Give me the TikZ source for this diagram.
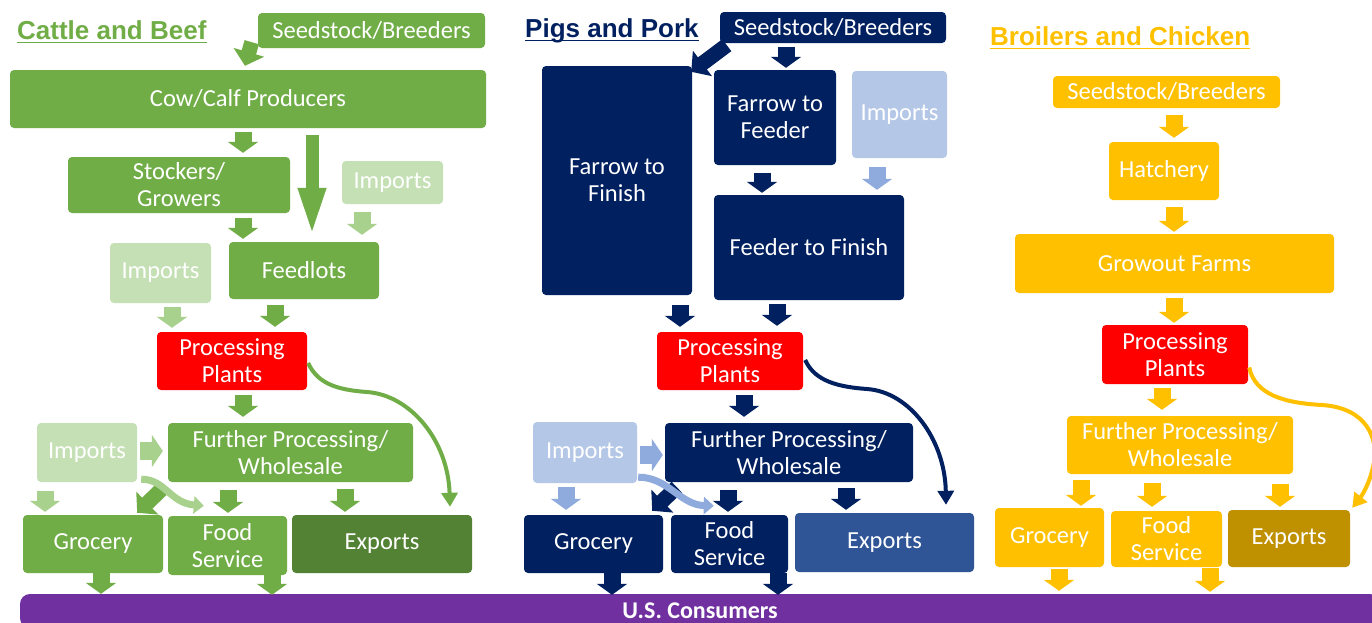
\documentclass[tikz,border=0pt]{standalone}
\usepackage{fontspec}
\setmainfont{Carlito}
\newfontfamily\titlefont{Liberation Sans}
\usetikzlibrary{arrows.meta,calc}
\definecolor{cgreen}{HTML}{70AD47}
\definecolor{cgreendk}{HTML}{548235}
\definecolor{cgreenlt}{HTML}{C5E0B4}
\definecolor{cgreenla}{HTML}{A9D18E}
\definecolor{cnavy}{HTML}{002060}
\definecolor{cnavyexp}{HTML}{2F5597}
\definecolor{cbluelt}{HTML}{B4C7E7}
\definecolor{cbluela}{HTML}{8FAADC}
\definecolor{cyel}{HTML}{FFC000}
\definecolor{cyelexp}{HTML}{BF9000}
\definecolor{cred}{HTML}{FF0000}
\definecolor{cpurp}{HTML}{7030A0}
\tikzset{
  box/.style={fill=#1, rounded corners=4pt, inner sep=0pt, align=center, text=white,
    font=\fontsize{24.5}{27}\selectfont},
  ttl/.style={text=#1, inner sep=0pt, anchor=base west,
    font=\titlefont\bfseries\fontsize{26}{30}\selectfont},
  uline/.style={draw=#1, line width=1.8pt},
  barrow/.style={color=#1, line width=17pt, -{Triangle[width=30pt,length=11pt]}},
  rarrow/.style={color=#1, line width=18pt, -{Triangle[width=32pt,length=11pt]}},
  darrow/.style={color=#1, line width=15pt, -{Triangle[width=31pt,length=14pt]}},
  bigarrow/.style={color=#1, line width=13pt, -{Triangle[width=24pt,length=52pt]}},
  curvearrow/.style={draw=#1, line width=4pt, -{Triangle[width=16pt,length=14pt]}},
  lcurve/.style={draw=#1, line width=7pt, -{Triangle[width=17pt,length=10pt]}},
}
\begin{document}
\begin{tikzpicture}[x=1pt,y=-1pt]
\useasboundingbox (0,0) rectangle (1372,622);
\clip (0,0) rectangle (1372,622);
\fill[white] (0,0) rectangle (1372,622);

% ---------------- Consumers bar
\node[fill=cpurp, rounded corners=10pt, minimum width=1360pt, minimum height=34pt,
  inner sep=0pt, text=white, font=\bfseries\fontsize{24}{27}\selectfont]
  (cons) at (700,611) {U.S. Consumers};

% ---------------- Cattle and Beef
\node[ttl=cgreen] (t_c) at (17,39) {Cattle and Beef};
\draw[uline=cgreen] ($(t_c.base west)+(0,3.5)$) -- ($(t_c.base east)+(0,3.5)$);

\node[box=cgreen, minimum width=227pt, minimum height=35pt] (c_seed) at (371.5,30.5) {Seedstock/Breeders};
\node[box=cgreen, minimum width=476pt, minimum height=58pt] (c_cow) at (248,99) {Cow/Calf Producers};
\node[box=cgreen, minimum width=222pt, minimum height=56pt] (c_stock) at (179,185) {Stockers/\\Growers};
\node[box=cgreenlt, minimum width=101pt, minimum height=43pt] (c_imp1) at (392.5,182.5) {Imports};
\node[box=cgreenlt, minimum width=101pt, minimum height=60pt] (c_imp2) at (160.5,273) {Imports};
\node[box=cgreen, minimum width=150pt, minimum height=57pt] (c_feed) at (304,270.5) {Feedlots};
\node[box=cred, minimum width=150pt, minimum height=58pt] (c_pp) at (232,361) {Processing\\Plants};
\node[box=cgreenlt, minimum width=100pt, minimum height=59pt] (c_imp3) at (87,452.5) {Imports};
\node[box=cgreen, minimum width=245pt, minimum height=59pt] (c_fp) at (290.5,452.5) {Further Processing/\\Wholesale};
\node[box=cgreen, minimum width=140pt, minimum height=58pt] (c_groc) at (93,544) {Grocery};
\node[box=cgreen, minimum width=119pt, minimum height=59pt] (c_fs) at (227.5,545.5) {Food\\Service};
\node[box=cgreendk, minimum width=180pt, minimum height=58pt] (c_exp) at (382,544) {Exports};

\draw[darrow=cgreen] ($(c_seed.south west)+(-6,-6)$) -- ($(c_cow.north)+(-3,-4)$);
\draw[barrow=cgreen] ($(c_cow.south)+(-5,4)$) -- ($(c_cow.south |- c_stock.north)+(-5,-4)$);
\draw[bigarrow=cgreen] ($(c_cow.south)+(64,7)$) -- ($(c_cow.south |- c_feed.north)+(64,-2)$);
\draw[barrow=cgreenla] ($(c_imp1.south)+(-30.5,8)$) -- ($(c_imp1.south |- c_feed.north)+(-30.5,-7)$);
\draw[barrow=cgreen] ($(c_stock.south)+(64,5)$) -- ($(c_stock.south |- c_feed.north)+(64,-3)$);
\draw[barrow=cgreenla] ($(c_imp2.south)+(11.5,4)$) -- ($(c_imp2.south |- c_pp.north)+(11.5,-4)$);
\draw[barrow=cgreen] ($(c_feed.south)+(-29,6)$) -- ($(c_feed.south |- c_pp.north)+(-29,-5)$);
\draw[barrow=cgreen] ($(c_pp.south)+(11,5)$) -- ($(c_pp.south |- c_fp.north)+(11,-6)$);
\draw[rarrow=cgreenla] ($(c_imp3.east)+(3,-1.5)$) -- ($(c_fp.west)+(-5,-1.5)$);
\draw[barrow=cgreenla] ($(c_imp3.south)+(-42,9)$) -- ($(c_imp3.south |- c_groc.north)+(-42,-3)$);
\draw[darrow=cgreen] ($(c_fp.south west)+(-4,5)$) -- ($(c_groc.north east)+(-26,-2)$);
\draw[lcurve=cgreenla] ($(c_imp3.south east)+(4,-3)$) .. controls (165,479) and (170,503) .. ($(c_fs.north west)+(36,-10)$);
\draw[barrow=cgreen] ($(c_fp.south)+(-62.5,8)$) -- ($(c_fp.south |- c_fs.north)+(-62.5,-3)$);
\draw[barrow=cgreen] ($(c_fp.south)+(54.5,7)$) -- ($(c_fp.south |- c_exp.north)+(54.5,-3)$);
\draw[curvearrow=cgreen] ($(c_pp.east)+(1,2)$) .. controls (318,385) and (340,390) .. (367,392)
   .. controls (410,395) and (448,440) .. ($(c_exp.north)+(68,-8)$);
\draw[barrow=cgreen] ($(c_groc.south)+(8,0)$) -- ($(c_groc.south |- cons.north)+(8,0)$);
\draw[barrow=cgreen] ($(c_fs.south)+(44.5,-1)$) -- ($(c_fs.south |- cons.north)+(44.5,1)$);

% ---------------- Pigs and Pork
\node[ttl=cnavy] (t_p) at (525,37) {Pigs and Pork};
\draw[uline=cnavy] ($(t_p.base west)+(0,3.5)$) -- ($(t_p.base east)+(0,3.5)$);

\node[box=cnavy, minimum width=226pt, minimum height=31pt] (p_seed) at (833,27.5) {Seedstock/Breeders};
\node[box=cnavy, minimum width=150pt, minimum height=229pt] (p_f2fin) at (617,180.5) {Farrow to\\Finish};
\node[box=cnavy, minimum width=122pt, minimum height=95pt] (p_f2fd) at (775,117.5) {Farrow to\\Feeder};
\node[box=cbluelt, minimum width=95pt, minimum height=87pt] (p_imp1) at (899.5,114.5) {Imports};
\node[box=cnavy, minimum width=190pt, minimum height=105pt] (p_fd2fin) at (809,247.5) {Feeder to Finish};
\node[box=cred, minimum width=146pt, minimum height=58pt] (p_pp) at (730,361) {Processing\\Plants};
\node[box=cbluelt, minimum width=104pt, minimum height=61pt] (p_imp2) at (585,452.5) {Imports};
\node[box=cnavy, minimum width=248pt, minimum height=59pt] (p_fp) at (789,452.5) {Further Processing/\\Wholesale};
\node[box=cnavy, minimum width=139pt, minimum height=58pt] (p_groc) at (593.5,544) {Grocery};
\node[box=cnavy, minimum width=117pt, minimum height=58pt] (p_fs) at (729.5,544) {Food\\Service};
\node[box=cnavyexp, minimum width=179pt, minimum height=59pt] (p_exp) at (884.5,542.5) {Exports};

\draw[darrow=cnavy] ($(p_seed.south west)+(7,2)$) -- ($(p_f2fin.north east)+(-1,6)$);
\draw[barrow=cnavy] ($(p_seed.south)+(-47,4)$) -- ($(p_seed.south |- p_f2fd.north)+(-47,-2)$);
\draw[barrow=cnavy] ($(p_f2fd.south)+(-13,8)$) -- ($(p_f2fd.south |- p_fd2fin.north)+(-13,-2)$);
\draw[barrow=cbluela] ($(p_imp1.south)+(-22.5,9)$) -- ($(p_imp1.south |- p_fd2fin.north)+(-22.5,-5)$);
\draw[barrow=cnavy] ($(p_f2fin.south)+(63,10)$) -- ($(p_f2fin.south |- p_pp.north)+(63,-5)$);
\draw[barrow=cnavy] ($(p_fd2fin.south)+(-32,4)$) -- ($(p_fd2fin.south |- p_pp.north)+(-32,-6)$);
\draw[barrow=cnavy] ($(p_pp.south)+(14,5)$) -- ($(p_pp.south |- p_fp.north)+(14,-6)$);
\draw[rarrow=cbluela] ($(p_imp2.east)+(3,2.5)$) -- ($(p_fp.west)+(-2,2.5)$);
\draw[barrow=cbluela] ($(p_imp2.south)+(-19,4)$) -- ($(p_imp2.south |- p_groc.north)+(-19,-5)$);
\draw[darrow=cnavy] ($(p_fp.south west)+(12,5)$) -- ($(p_groc.north east)+(-11,-4)$);
\draw[lcurve=cbluela] ($(p_imp2.south east)+(1,-6)$) .. controls (668,477) and (680,505) .. ($(p_fs.north west)+(43,-9)$);
\draw[barrow=cnavy] ($(p_fp.south)+(-61,8)$) -- ($(p_fp.south |- p_fs.north)+(-61,-3)$);
\draw[barrow=cnavy] ($(p_fp.south)+(57,6)$) -- ($(p_fp.south |- p_exp.north)+(57,-3)$);
\draw[curvearrow=cnavy] ($(p_pp.east)+(2,-1)$) .. controls (815,382) and (840,387) .. (867,389)
   .. controls (910,392) and (945,440) .. ($(p_exp.north)+(61.5,-8)$);
\draw[barrow=cnavy] ($(p_groc.south)+(18.5,0)$) -- ($(p_groc.south |- cons.north)+(18.5,1)$);
\draw[barrow=cnavy] ($(p_fs.south)+(48.5,0)$) -- ($(p_fs.south |- cons.north)+(48.5,1)$);

% ---------------- Broilers and Chicken
\node[ttl=cyel] (t_k) at (990,45) {Broilers and Chicken};
\draw[uline=cyel] ($(t_k.base west)+(0,3.5)$) -- ($(t_k.base east)+(0,3.5)$);

\node[box=cyel, minimum width=227pt, minimum height=32pt] (k_seed) at (1166.5,92) {Seedstock/Breeders};
\node[box=cyel, minimum width=110pt, minimum height=58pt] (k_hatch) at (1164,171) {Hatchery};
\node[box=cyel, minimum width=319pt, minimum height=59pt] (k_grow) at (1174.5,263.5) {Growout Farms};
\node[box=cred, minimum width=146pt, minimum height=59pt] (k_pp) at (1175,354.5) {Processing\\Plants};
\node[box=cyel, minimum width=226pt, minimum height=58pt] (k_fp) at (1180,445) {Further Processing/\\Wholesale};
\node[box=cyel, minimum width=109pt, minimum height=59pt] (k_groc) at (1049.5,537.5) {Grocery};
\node[box=cyel, minimum width=111pt, minimum height=56pt] (k_fs) at (1166.5,539) {Food\\Service};
\node[box=cyelexp, minimum width=122pt, minimum height=57pt] (k_exp) at (1289,538.5) {Exports};

\draw[barrow=cyel] ($(k_seed.south)+(7.5,7)$) -- ($(k_seed.south |- k_hatch.north)+(7.5,-4)$);
\draw[barrow=cyel] ($(k_hatch.south)+(10,7)$) -- ($(k_hatch.south |- k_grow.north)+(10,-2)$);
\draw[barrow=cyel] ($(k_grow.south)+(-0.5,5)$) -- ($(k_grow.south |- k_pp.north)+(-0.5,-2)$);
\draw[barrow=cyel] ($(k_pp.south)+(-13,4)$) -- ($(k_pp.south |- k_fp.north)+(-13,-6)$);
\draw[barrow=cyel] ($(k_fp.south)+(-99,6)$) -- ($(k_fp.south |- k_groc.north)+(-99,-2)$);
\draw[barrow=cyel] ($(k_fp.south)+(-28,9)$) -- ($(k_fp.south |- k_fs.north)+(-28,-4)$);
\draw[barrow=cyel] ($(k_fp.south)+(100,10)$) -- ($(k_fp.south |- k_exp.north)+(100,-3)$);
\draw[curvearrow=cyel] ($(k_pp.east)+(1,13)$) .. controls (1255,395) and (1285,403) .. (1322,405)
   .. controls (1368,408) and (1378,440) .. (1374,462)
   .. controls (1370,485) and (1360,498) .. ($(k_exp.north east)+(2,-2)$);
\draw[barrow=cyel] ($(k_groc.south)+(9.5,2)$) -- ($(k_groc.south |- cons.north)+(9.5,-3)$);
\draw[barrow=cyel] ($(k_fs.south)+(43.5,1)$) -- ($(k_fs.south |- cons.north)+(43.5,-2)$);
\end{tikzpicture}
\end{document}
